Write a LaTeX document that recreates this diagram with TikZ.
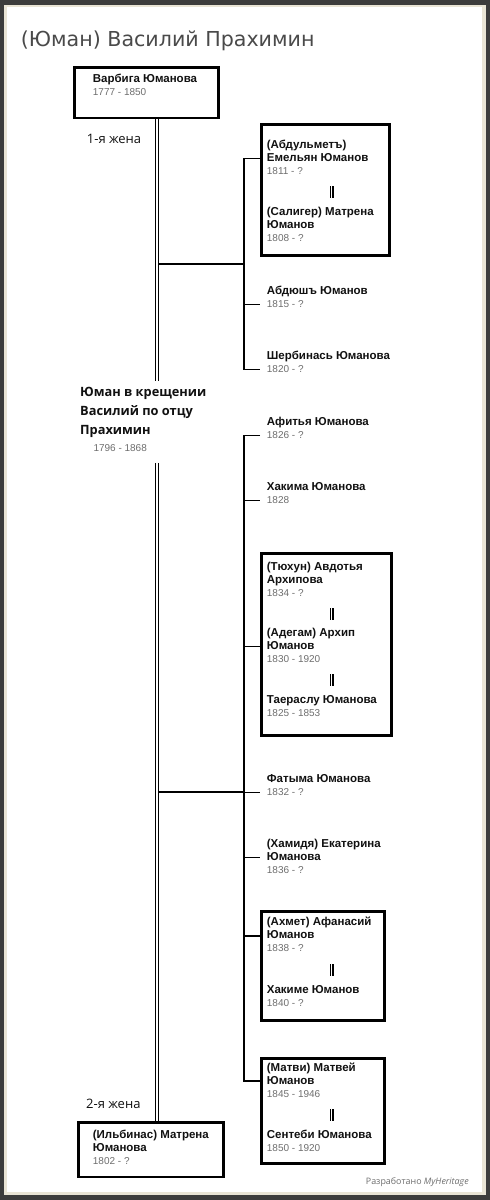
\documentclass[tikz,border=0pt]{standalone}
\usepackage{fontspec}
\setmainfont{Liberation Sans}
\newfontfamily\osans{Open Sans}
\newfontfamily\dvsans{DejaVu Sans}
\usetikzlibrary{calc}
\definecolor{dategray}{HTML}{6E6E6E}
\definecolor{titlegray}{HTML}{4A4A4A}
\definecolor{framedark}{HTML}{3C3C3C}
\definecolor{framebeige}{HTML}{E9E4D5}
\definecolor{ink}{HTML}{111111}
\newcommand{\dt}[1]{{\mdseries\fontsize{10}{13}\selectfont\color{dategray}#1}}
\begin{document}
\begin{tikzpicture}[x=1pt,y=-1pt,
  person/.style={anchor=base west, inner sep=0, align=left, text=ink,
    font=\fontsize{11.5}{13}\selectfont\bfseries},
  fambox/.style={draw, line width=2.8pt, inner sep=0, anchor=north west},
  conn/.style={line width=1.6pt},
  spineline/.style={double=white, double distance=2pt, line width=1.1pt},
  marr/.style={double=white, double distance=1.6pt, line width=1.2pt},
  wifelbl/.style={anchor=base west, inner sep=0, text=ink,
    font=\osans\fontsize{13}{16}\selectfont}]
% frame
\fill[framedark] (0,0) rectangle (490,1200);
\fill[framebeige] (4,5) rectangle (485.5,1195);
\fill[white] (6.5,7) rectangle (482,1191.5);
\useasboundingbox (0,0) rectangle (490,1200);

% title
\node[anchor=base west, inner sep=0, text=titlegray,
  font=\dvsans\fontsize{20.6}{24}\selectfont] (title) at (20.7,46) {(Юман) Василий Прахимин};

% boxes
\node[fambox, minimum width=144.5, minimum height=50.5] (w1box) at (72.7,66) {};
\node[fambox, minimum width=128.2, minimum height=131.2] (c1box) at (260,123) {};
\node[fambox, minimum width=129.9, minimum height=181.6] (d3box) at (260,552.3) {};
\node[fambox, minimum width=123.2, minimum height=109.2] (d6box) at (260,910) {};
\node[fambox, minimum width=123.2, minimum height=105.2] (d7box) at (260,1057) {};
\node[fambox, minimum width=145.5, minimum height=54.8] (w2box) at (76.7,1120.7) {};

% people (anchored at the baseline of their last line)
\node[person] (w1) at (92.7,95.7) {Варбига Юманова\\\dt{1777 - 1850}};
\node[wifelbl] (lbl1) at (86.7,143) {1-я жена};
\node[person] (c1a) at (266.7,174) {(Абдульметъ)\\Емельян Юманов\\\dt{1811 - ?}};
\node[person] (c1b) at (266.7,241) {(Салигер) Матрена\\Юманов\\\dt{1808 - ?}};
\node[person] (c2) at (266.7,307) {Абдюшъ Юманов\\\dt{1815 - ?}};
\node[person] (c3) at (266.7,372) {Шербинась Юманова\\\dt{1820 - ?}};

\node[anchor=base west, inner sep=0, outer ysep=6, align=left, text=ink,
  font=\osans\bfseries\fontsize{12.8}{19}\selectfont] (h) at (80,434)
  {Юман в крещении\\Василий по отцу\\Прахимин};
\node[anchor=base west, inner sep=0, outer ysep=11] (hd) at (93.3,451.7) {\dt{1796 - 1868}};

\node[person] (d1) at (266.7,438) {Афитья Юманова\\\dt{1826 - ?}};
\node[person] (d2) at (266.7,503) {Хакима Юманова\\\dt{1828}};
\node[person] (d3a) at (266.7,596) {(Тюхун) Авдотья\\Архипова\\\dt{1834 - ?}};
\node[person] (d3b) at (266.7,662) {(Адегам) Архип\\Юманов\\\dt{1830 - 1920}};
\node[person] (d3c) at (266.7,716) {Таераслу Юманова\\\dt{1825 - 1853}};
\node[person] (d4) at (266.7,795) {Фатыма Юманова\\\dt{1832 - ?}};
\node[person] (d5) at (266.7,873) {(Хамидя) Екатерина\\Юманова\\\dt{1836 - ?}};
\node[person] (d6a) at (266.7,951.7) {(Ахмет) Афанасий\\Юманов\\\dt{1838 - ?}};
\node[person] (d6b) at (266.7,1006) {Хакиме Юманов\\\dt{1840 - ?}};
\node[person] (d7a) at (266.7,1097) {(Матви) Матвей\\Юманов\\\dt{1845 - 1946}};
\node[person] (d7b) at (266.7,1151) {Сентеби Юманова\\\dt{1850 - 1920}};

\node[wifelbl] (lbl2) at (86,1108) {2-я жена};
\node[person] (w2) at (92.7,1164) {(Ильбинас) Матрена\\Юманова\\\dt{1802 - ?}};

\node[anchor=base west, inner sep=0, text=dategray,
  font=\osans\fontsize{8.9}{10}\selectfont] (mh) at (365.7,1184) {Разработано \textit{MyHeritage}};

% helper coordinates
\coordinate (spine) at (157.2,0);
\coordinate (br1) at (244,0);
\coordinate (cx) at (260,0);
\coordinate (mx) at (331.5,0);
\coordinate (j1) at (244,264);
\coordinate (j2) at (244,792);

% group 1
\draw[conn] (j1 -| spine) -- (j1);
\draw[conn] ([yshift=-1.5]c1a.center -| c1box.west) -- ([yshift=-1.5]c1a.center -| br1)
  -- ([yshift=3]c3.south -| br1) -- ([yshift=3]c3.south -| cx);
\draw[conn] ([yshift=3]c2.south -| br1) -- ([yshift=3]c2.south -| cx);

% group 2
\draw[conn] (j2 -| spine) -- (j2);
\draw[conn] ([yshift=3]d1.south -| cx) -- ([yshift=3]d1.south -| br1)
  -- ([yshift=-1.5]d7a.center -| br1) -- ([yshift=-1.5]d7a.center -| d7box.west);
\draw[conn] ([yshift=3]d2.south -| br1) -- ([yshift=3]d2.south -| cx);
\draw[conn] ([yshift=-1.5]d3b.center -| br1) -- ([yshift=-1.5]d3b.center -| d3box.west);
\draw[conn] ([yshift=3]d4.south -| br1) -- ([yshift=3]d4.south -| cx);
\draw[conn] ([yshift=-1.5]d5.center -| br1) -- ([yshift=-1.5]d5.center -| cx);
\draw[conn] ([yshift=-1.5]d6a.center -| br1) -- ([yshift=-1.5]d6a.center -| d6box.west);

% spine
\draw[spineline] (w1box.south -| spine) -- (h.north -| spine);
\draw[spineline] (hd.south -| spine) -- (w2box.north -| spine);

% marriage marks
\draw[marr] ([yshift=-12]c1a.south -| mx) -- ([yshift=-24]c1a.south -| mx);
\draw[marr] ([yshift=-12]d3a.south -| mx) -- ([yshift=-24]d3a.south -| mx);
\draw[marr] ([yshift=-12]d3b.south -| mx) -- ([yshift=-24]d3b.south -| mx);
\draw[marr] ([yshift=-12]d6a.south -| mx) -- ([yshift=-24]d6a.south -| mx);
\draw[marr] ([yshift=-12]d7a.south -| mx) -- ([yshift=-24]d7a.south -| mx);
\end{tikzpicture}
\end{document}
